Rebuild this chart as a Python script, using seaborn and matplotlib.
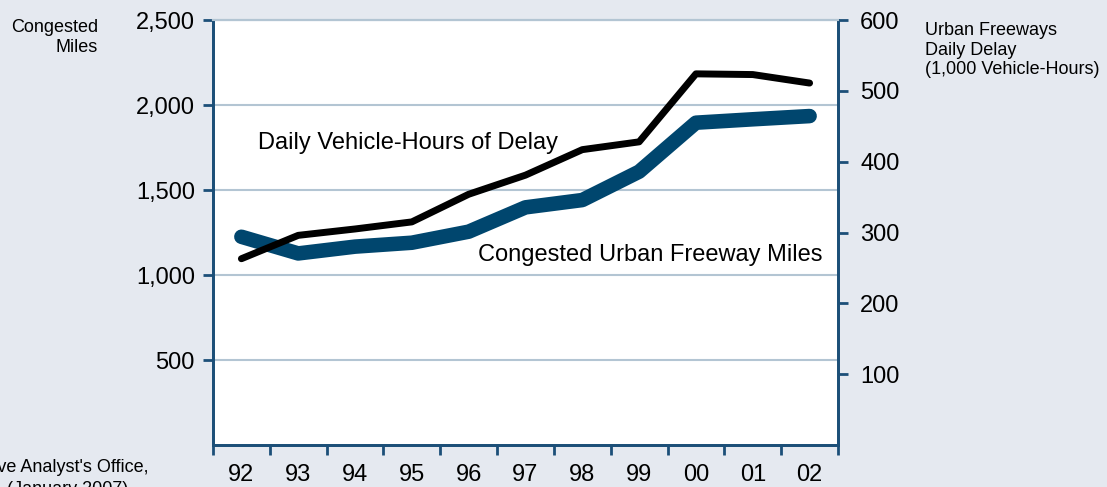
import numpy as np
import pandas as pd
import matplotlib
matplotlib.use("Agg")
import matplotlib.pyplot as plt
import seaborn as sns

years = ["92", "93", "94", "95", "96", "97", "98", "99", "00", "01", "02"]
congested_miles = [1225, 1127, 1167, 1190, 1255, 1398, 1441, 1608, 1896, 1916, 1935]
delay_hours = [263, 296, 305, 315, 354, 381, 417, 428, 524, 523, 511]

bg = "#e5e9f0"
navy = "#1c4f78"
blue_line = "#00466e"
grid_c = "#b3c5d3"

sns.set_theme(style="white")
plt.rcParams["font.family"] = ["Liberation Sans", "DejaVu Sans"]
plt.rcParams["text.color"] = "black"

df = pd.DataFrame({"pos": np.arange(len(years)), "miles": congested_miles, "delay": delay_hours})

fig = plt.figure(figsize=(11.07, 4.87), dpi=100, facecolor=bg)
ax = fig.add_axes([0.1924, 0.0862, 0.5646, 0.8727])
ax.set_facecolor("white")

# congested miles on the left axis
sns.lineplot(data=df, x="pos", y="miles", ax=ax, color=blue_line, linewidth=10.5, sort=False)
ax.set_ylim(0, 2500)
ax.set_xlim(-0.5, len(years) - 0.5)
ax.set_yticks([500, 1000, 1500, 2000, 2500])
ax.set_yticklabels(["500", "1,000", "1,500", "2,000", "2,500"])
ax.yaxis.grid(True, color=grid_c, linewidth=1.5)
ax.set_axisbelow(True)
ax.set_xticks(np.arange(len(years)))
ax.set_xticklabels(years)
ax.set_xticks(np.arange(-0.5, len(years)), minor=True)
ax.tick_params(axis="x", which="major", length=0, pad=14, labelsize=17, labelcolor="black")
ax.tick_params(axis="x", which="minor", length=7, width=2, color=navy, bottom=True)
ax.tick_params(axis="y", which="major", length=7, width=2, color=navy, left=True,
               pad=6, labelsize=17, labelcolor="black")
ax.set_xlabel("")
ax.set_ylabel("")

# daily delay on the right axis
ax2 = ax.twinx()
sns.lineplot(data=df, x="pos", y="delay", ax=ax2, color="black", linewidth=5, sort=False)
ax2.set_ylim(0, 600)
ax2.set_yticks([100, 200, 300, 400, 500, 600])
ax2.tick_params(axis="y", which="major", length=7, width=2, color=navy, right=True,
                pad=9, labelsize=17, labelcolor="black")
ax2.set_ylabel("")
ax2.set_xlabel("")

for a in (ax, ax2):
    for side in ("left", "right", "bottom"):
        a.spines[side].set_color(navy)
        a.spines[side].set_linewidth(2)
    a.spines["top"].set_color(grid_c)
    a.spines["top"].set_linewidth(1.5)

ax.text(0.072, 0.711, "Daily Vehicle-Hours of Delay", transform=ax.transAxes,
        fontsize=17, ha="left", va="center")
ax.text(0.976, 0.447, "Congested Urban Freeway Miles", transform=ax.transAxes,
        fontsize=17, ha="right", va="center")

fig.text(98 / 1107, 1 - 19 / 487, "Congested\nMiles", ha="right", va="top",
         fontsize=13, linespacing=1.25)
fig.text(925 / 1107, 1 - 22 / 487, "Urban Freeways\nDaily Delay\n(1,000 Vehicle-Hours)",
         ha="left", va="top", fontsize=13, linespacing=1.2)

fig.text(148 / 1107, 1 - 468 / 487, "Source: Legislative Analyst's Office,",
         ha="right", va="center", fontsize=13)
fig.text(128 / 1107, 1 - 489 / 487, "(January 2007)",
         ha="right", va="center", fontsize=13)

fig.savefig("out.png", dpi=100, facecolor=bg)
